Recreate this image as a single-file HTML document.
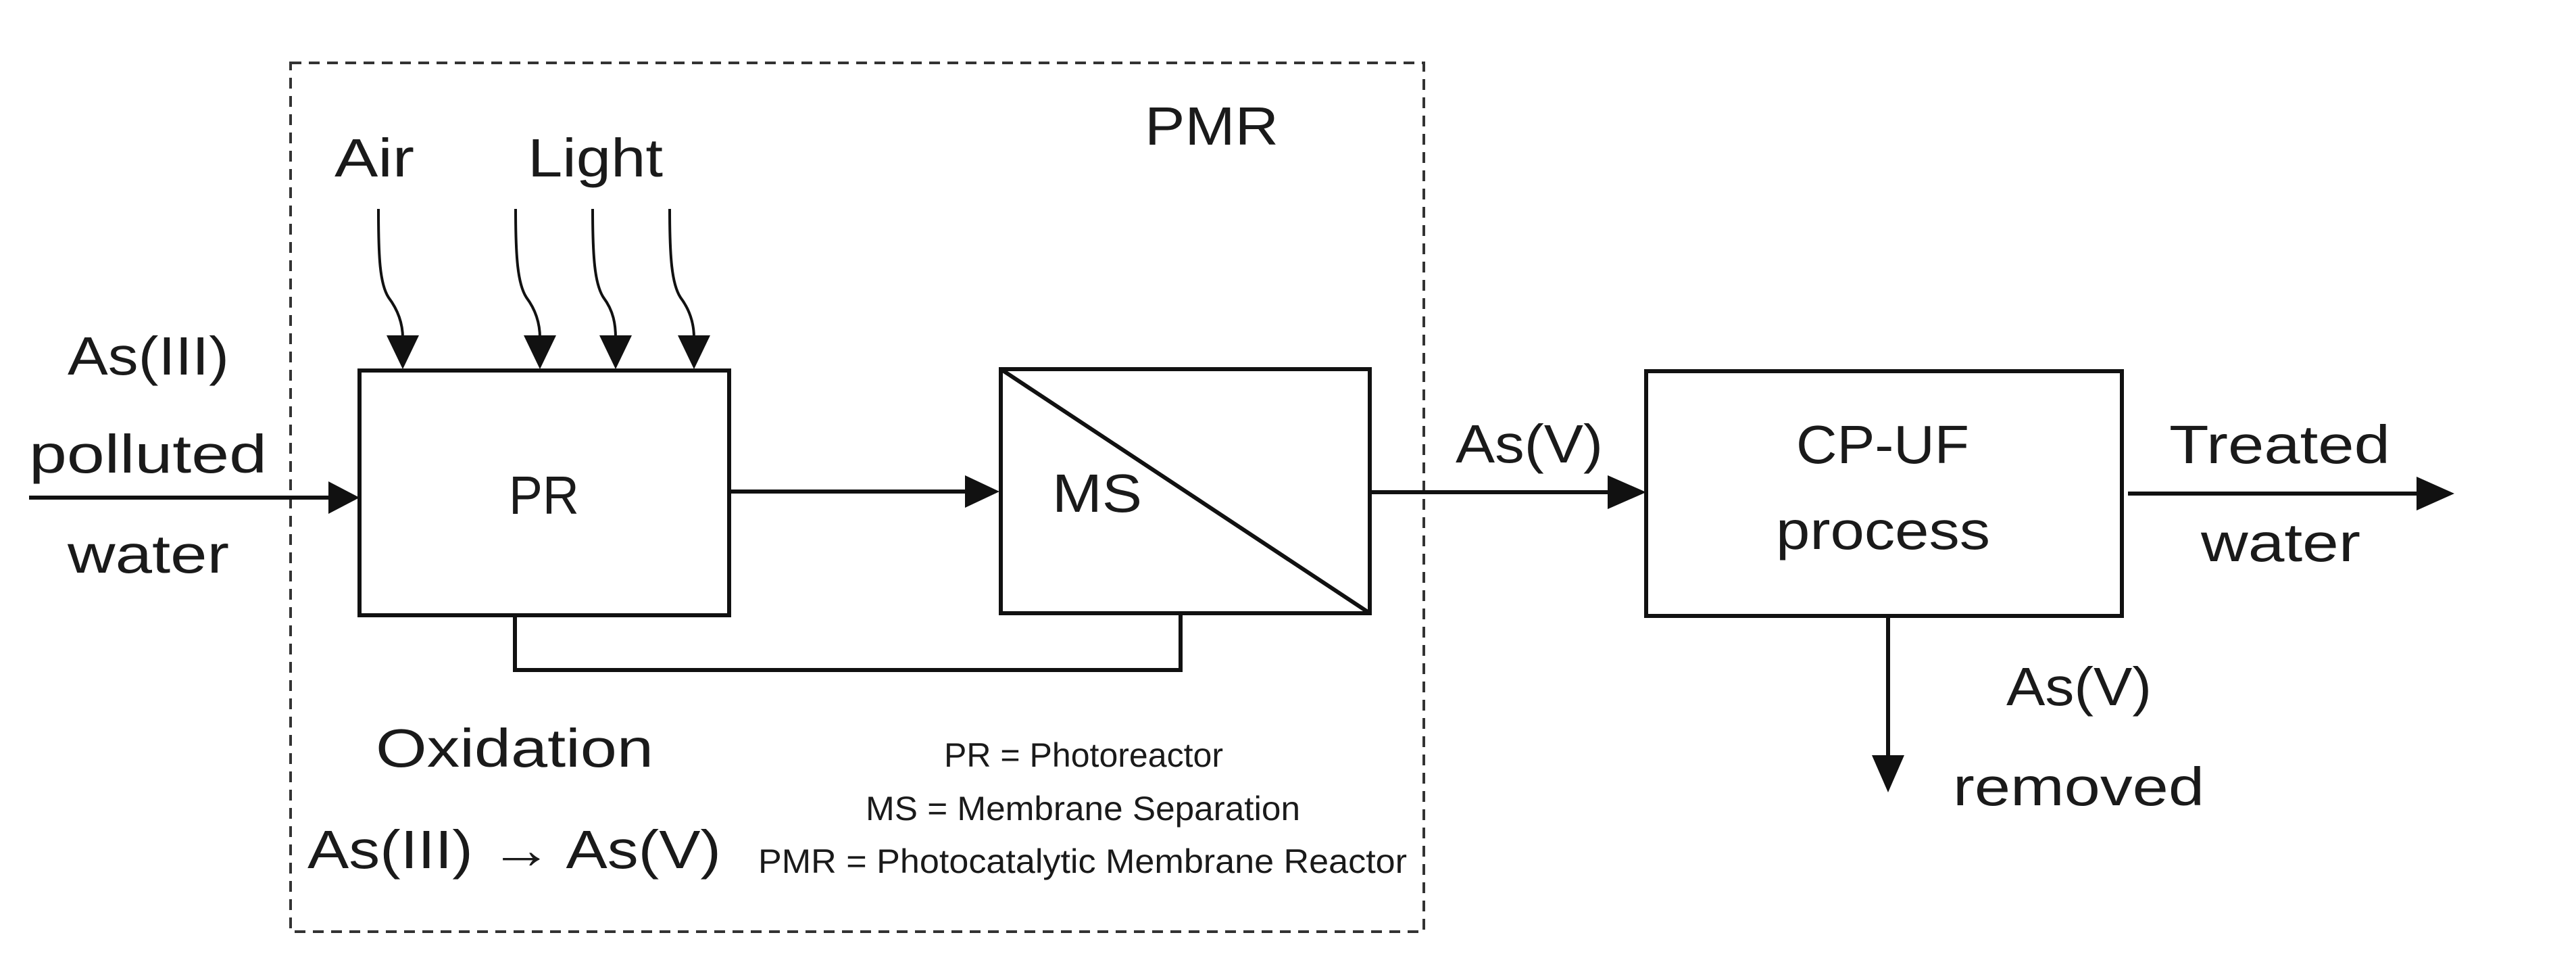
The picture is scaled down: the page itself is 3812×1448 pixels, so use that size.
<!DOCTYPE html>
<html><head><meta charset="utf-8"><style>
html,body{margin:0;padding:0;background:#fff;}
svg{display:block;}
text{font-family:"Liberation Sans",sans-serif;fill:#1a1a1a;}
.b{font-size:80px;}
.s{font-size:50px;}
</style></head><body>
<svg width="3812" height="1448" viewBox="0 0 3812 1448" xmlns="http://www.w3.org/2000/svg">
<defs>
<marker id="ah" markerWidth="10" markerHeight="10" refX="10" refY="5" orient="auto" markerUnits="userSpaceOnUse" viewBox="0 0 10 10">
</marker>
</defs>
<!-- dashed PMR box -->
<rect x="430" y="93" width="1677" height="1285" fill="none" stroke="#333" stroke-width="4" stroke-dasharray="16,11"/>
<g stroke="#111" stroke-width="6" fill="none">
<!-- PR box -->
<rect x="532" y="548" width="547" height="362"/>
<!-- MS box -->
<rect x="1481" y="546" width="546" height="361"/>
<line x1="1481" y1="546" x2="2027" y2="907"/>
<!-- CP-UF box -->
<rect x="2436" y="549" width="704" height="362"/>
<!-- input -->
<line x1="43" y1="736" x2="490" y2="736"/>
<!-- PR to MS -->
<line x1="1079" y1="727" x2="1430" y2="727"/>
<!-- MS to CP-UF -->
<line x1="2027" y1="728" x2="2382" y2="728"/>
<!-- treated -->
<line x1="3149" y1="730" x2="3580" y2="730"/>
<!-- down -->
<line x1="2794" y1="911" x2="2794" y2="1120"/>
<!-- feedback -->
<polyline points="762,910 762,991 1747,991 1747,907"/>
<!-- curvy arrows -->
<path d="M560,309 C560,380 562,420 575,440 C590,460 596,480 596,500" stroke-width="4"/>
<path d="M763,309 C763,380 766,420 779,440 C794,460 799,480 799,500" stroke-width="4"/>
<path d="M877,309 C877,380 880,420 893,440 C908,460 911,480 911,500" stroke-width="4"/>
<path d="M991,309 C991,380 994,420 1007,440 C1022,460 1027,480 1027,500" stroke-width="4"/>
</g>
<g fill="#111">
<polygon points="532,736 486,712 486,760"/>
<polygon points="1479,727 1428,703 1428,751"/>
<polygon points="2436,728 2379,703 2379,753"/>
<polygon points="3632,730 3576,705 3576,755"/>
<polygon points="2794,1172 2770,1117 2818,1117"/>
<polygon points="596,546 572,496 620,496"/>
<polygon points="799,546 775,496 823,496"/>
<polygon points="911,546 887,496 935,496"/>
<polygon points="1027,546 1003,496 1051,496"/>
</g>
<g class="b">
<text x="495" y="261" textLength="118" lengthAdjust="spacingAndGlyphs">Air</text>
<text x="781" y="261" textLength="200" lengthAdjust="spacingAndGlyphs">Light</text>
<text x="1694" y="214" textLength="198" lengthAdjust="spacingAndGlyphs">PMR</text>
<text x="100" y="554" textLength="239" lengthAdjust="spacingAndGlyphs">As(III)</text>
<text x="43" y="699" textLength="352" lengthAdjust="spacingAndGlyphs">polluted</text>
<text x="100" y="847" textLength="239" lengthAdjust="spacingAndGlyphs">water</text>
<text x="753" y="760" textLength="104" lengthAdjust="spacingAndGlyphs">PR</text>
<text x="1557" y="757" textLength="133" lengthAdjust="spacingAndGlyphs">MS</text>
<text x="556" y="1134" textLength="411" lengthAdjust="spacingAndGlyphs">Oxidation</text>
<text x="455" y="1284" textLength="612" lengthAdjust="spacingAndGlyphs">As(III) → As(V)</text>
<text x="2154" y="684" textLength="218" lengthAdjust="spacingAndGlyphs">As(V)</text>
<text x="2658" y="685" textLength="256" lengthAdjust="spacingAndGlyphs">CP-UF</text>
<text x="2628" y="812" textLength="317" lengthAdjust="spacingAndGlyphs">process</text>
<text x="3210" y="685" textLength="327" lengthAdjust="spacingAndGlyphs">Treated</text>
<text x="3257" y="830" textLength="236" lengthAdjust="spacingAndGlyphs">water</text>
<text x="2969" y="1043" textLength="215" lengthAdjust="spacingAndGlyphs">As(V)</text>
<text x="2890" y="1191" textLength="372" lengthAdjust="spacingAndGlyphs">removed</text>
</g>
<g class="s">
<text x="1397" y="1134" textLength="413" lengthAdjust="spacingAndGlyphs">PR = Photoreactor</text>
<text x="1281" y="1213" textLength="643" lengthAdjust="spacingAndGlyphs">MS = Membrane  Separation</text>
<text x="1122" y="1291" textLength="960" lengthAdjust="spacingAndGlyphs">PMR = Photocatalytic Membrane  Reactor</text>
</g>
</svg>
</body></html>
